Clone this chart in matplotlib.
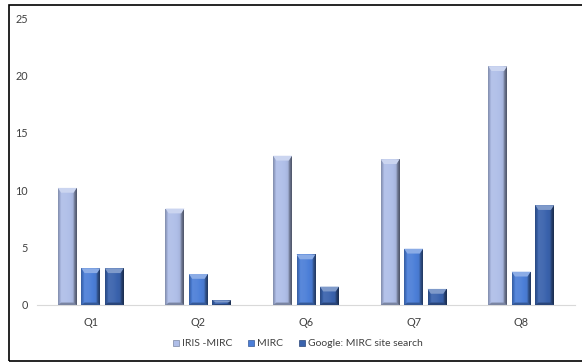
import numpy as np
import matplotlib
matplotlib.use("Agg")
import matplotlib.pyplot as plt
from matplotlib.patches import Rectangle, Polygon
from matplotlib.colors import to_rgb

categories = ["Q1", "Q2", "Q6", "Q7", "Q8"]
series_names = ["IRIS -MIRC", "MIRC", "Google: MIRC site search"]
iris_mirc = [10.2, 8.4, 13.0, 12.7, 20.8]
mirc = [3.2, 2.7, 4.4, 4.9, 2.9]
google_site = [3.2, 0.4, 1.6, 1.4, 8.7]
y_ticks = [0, 5, 10, 15, 20, 25]

series_values = [iris_mirc, mirc, google_site]
base_colors = ["#AFBEE8", "#4C7FD8", "#3A63AD"]

plt.rcParams["font.family"] = ["Lato", "DejaVu Sans"]
text_color = "#404040"

fig = plt.figure(figsize=(5.82, 3.63), dpi=100)
ax = fig.add_axes([0.0636, 0.1598, 0.9244, 0.7906])

x = np.arange(len(categories))
bar_w = 0.176
step = 0.218


def shade(rgb, f):
    rgb = np.array(rgb)
    if f >= 0:
        return rgb + (1 - rgb) * f
    return rgb * (1 + f)


def gradient_for(color, n=40):
    base = np.array(to_rgb(color))
    pos = np.linspace(0, 1, n)
    stops_p = [0.0, 0.1, 0.18, 0.45, 0.8, 0.88, 1.0]
    stops_f = [-0.25, -0.1, 0.08, 0.05, -0.05, -0.35, -0.55]
    f = np.interp(pos, stops_p, stops_f)
    row = np.array([shade(base, v) for v in f])
    return row[np.newaxis, :, :]


bevel_h = 0.42
bevel_w = 0.03

for i, (vals, col) in enumerate(zip(series_values, base_colors)):
    bars = ax.bar(x + (i - 1) * step, vals, width=bar_w, color=col,
                  edgecolor="none", zorder=2, label=series_names[i])
    grad = gradient_for(col)
    base = np.array(to_rgb(col))
    for rect in bars:
        x0 = rect.get_x()
        w = rect.get_width()
        h = rect.get_height()
        im = ax.imshow(grad, extent=[x0, x0 + w, 0, h], aspect="auto",
                       interpolation="bilinear", zorder=3)
        im.set_clip_path(rect)
        bh = min(bevel_h, h * 0.45)
        top = Polygon([[x0, h], [x0 + w, h], [x0 + w - bevel_w, h - bh],
                       [x0 + bevel_w, h - bh]], closed=True,
                      facecolor=shade(base, 0.35), edgecolor="none", zorder=4)
        ax.add_patch(top)
        bottom = Polygon([[x0, 0], [x0 + w, 0], [x0 + w - bevel_w, bh * 0.5],
                          [x0 + bevel_w, bh * 0.5]], closed=True,
                         facecolor=shade(base, -0.3), edgecolor="none", zorder=4)
        ax.add_patch(bottom)

ax.set_xlim(-0.5, len(categories) - 0.5)
ax.set_ylim(0, 25)
ax.set_yticks(y_ticks)
ax.set_xticks(x)
ax.set_xticklabels(categories)
ax.tick_params(axis="both", length=0, labelsize=7.8, colors=text_color)
ax.tick_params(axis="y", pad=6.5)
ax.tick_params(axis="x", pad=8.5)
for side in ["left", "right", "top"]:
    ax.spines[side].set_visible(False)
ax.spines["bottom"].set_color("#D9D9D9")
ax.spines["bottom"].set_linewidth(0.8)
ax.spines["bottom"].set_zorder(1)

handles = [Rectangle((0, 0), 1, 1, facecolor=c, edgecolor=shade(to_rgb(c), -0.3), linewidth=0.5)
           for c in base_colors]
fig.legend(handles, series_names, loc="center", ncol=3, frameon=False,
           bbox_to_anchor=(298 / 582, 1 - 344 / 363), fontsize=7.5,
           handlelength=0.6, handleheight=0.6, handletextpad=0.3,
           columnspacing=1.5, labelcolor=text_color)

fig.add_artist(Rectangle((9 / 582, 1 - 361 / 363), 1.2, (361 - 5) / 363,
                         transform=fig.transFigure, fill=False,
                         edgecolor="black", linewidth=1.2))

fig.savefig("out.png", dpi=100)
